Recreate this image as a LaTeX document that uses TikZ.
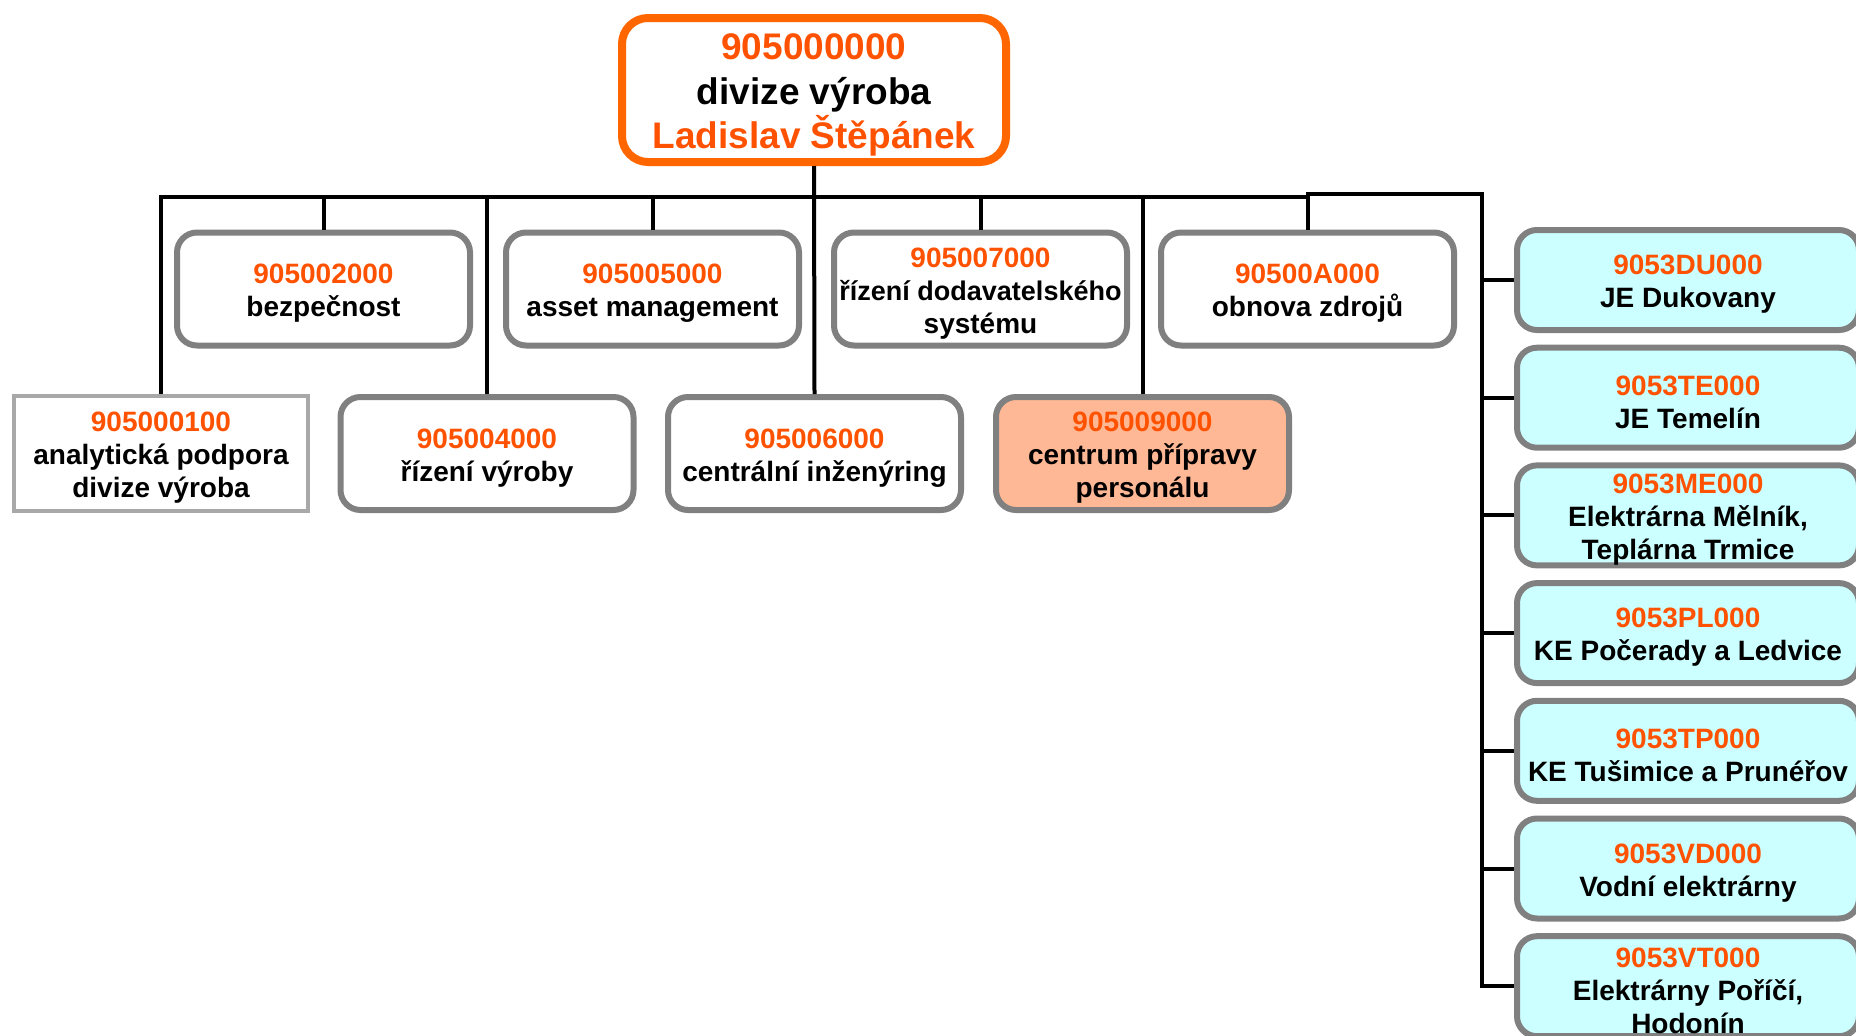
\documentclass[tikz,border=0pt]{standalone}
\usepackage{fontspec}
\setmainfont{Liberation Sans}
\definecolor{codeor}{HTML}{FF5200}
\definecolor{topor}{HTML}{FF6600}
\definecolor{boxgray}{HTML}{808080}
\definecolor{lgray}{HTML}{A8A8A8}
\definecolor{cyanfill}{HTML}{CCFFFF}
\definecolor{salmon}{HTML}{FFB895}
\tikzset{
  unitbox/.style={draw=boxgray, line width=6pt, rounded corners=20pt, fill=white,
    minimum width=293pt, minimum height=113pt, inner sep=0pt, align=center,
    font=\fontsize{28}{33}\selectfont\bfseries},
  sqbox/.style={unitbox, draw=lgray, line width=4pt, rounded corners=0pt,
    minimum width=294pt, minimum height=115pt},
  hilite/.style={unitbox, fill=salmon},
  plantbox/.style={unitbox, fill=cyanfill, minimum width=342pt, minimum height=100pt},
  topbox/.style={draw=topor, line width=8pt, rounded corners=26pt, fill=white,
    minimum width=384pt, minimum height=144pt, inner sep=0pt, align=center,
    font=\fontsize{37}{44.5}\selectfont\bfseries},
  conn/.style={draw=black, line width=4pt},
}
\newcommand{\cd}[1]{\rule{0pt}{28pt}\textcolor{codeor}{#1}}
\begin{document}
\begin{tikzpicture}[x=1pt,y=-1pt]
\useasboundingbox (0,0) rectangle (1856,1036);
\clip (0,0) rectangle (1856,1036);
\fill[white] (0,0) rectangle (1856,1036);

% bus coordinates
\coordinate (busL) at (161,196.5);
\coordinate (busM) at (1307.5,196.5);
\coordinate (busR) at (1482,194);

% top
\node[topbox] (top) at (814,90) {\rule{0pt}{36pt}\textcolor{codeor}{905000000}\\divize výroba\\\textcolor{codeor}{Ladislav Štěpánek}};

% row 1
\node[unitbox] (n2000) at (323.5,289) {\cd{905002000}\\bezpečnost};
\node[unitbox] (n5000) at (652.5,289) {\cd{905005000}\\asset management};
\node[unitbox] (n7000) at (980.5,289) {\cd{905007000}\\{\fontsize{27}{33}\selectfont řízení dodavatelského}\\systému};
\node[unitbox] (nA000) at (1307.5,289) {\cd{90500A000}\\obnova zdrojů};

% row 2
\node[sqbox] (n0100) at (161,453.5) {\cd{905000100}\\analytická podpora\\divize výroba};
\node[unitbox] (n4000) at (487,453.5) {\cd{905004000}\\řízení výroby};
\node[unitbox] (n6000) at (814.5,453.5) {\cd{905006000}\\centrální inženýring};
\node[hilite] (n9000) at (1142.5,453.5) {\cd{905009000}\\centrum přípravy\\personálu};

% right column
\node[plantbox] (r1) at (1688,280) {\cd{9053DU000}\\JE Dukovany};
\node[plantbox] (r2) at (1688,397.7) {\cd{9053TE000}\\JE Temelín};
\node[plantbox] (r3) at (1688,515.4) {\cd{9053ME000}\\Elektrárna Mělník,\\Teplárna Trmice};
\node[plantbox] (r4) at (1688,633.1) {\cd{9053PL000}\\KE Počerady a Ledvice};
\node[plantbox] (r5) at (1688,750.8) {\cd{9053TP000}\\KE Tušimice a Prunéřov};
\node[plantbox] (r6) at (1688,868.5) {\cd{9053VD000}\\Vodní elektrárny};
\node[plantbox] (r7) at (1688,986.2) {\cd{9053VT000}\\Elektrárny Poříčí,\\Hodonín};

% connectors
\draw[conn] (n0100.north) -- (n0100.north |- busL) -- (busM) -- (busM |- busR) -- (busR) -- (busR |- r7.west) -- (r7.west);
\draw[conn] (top.south) -- (n6000.north);
\draw[conn] (n2000.north) -- (n2000.north |- busL);
\draw[conn] (n5000.north) -- (n5000.north |- busL);
\draw[conn] (n7000.north) -- (n7000.north |- busL);
\draw[conn] (nA000.north) -- (nA000.north |- busR);
\draw[conn] (n4000.north) -- (n4000.north |- busL);
\draw[conn] (n9000.north) -- (n9000.north |- busL);
\foreach \r in {r1,r2,r3,r4,r5,r6}{
  \draw[conn] (\r.west -| busR) -- (\r.west);
}
\end{tikzpicture}
\end{document}
